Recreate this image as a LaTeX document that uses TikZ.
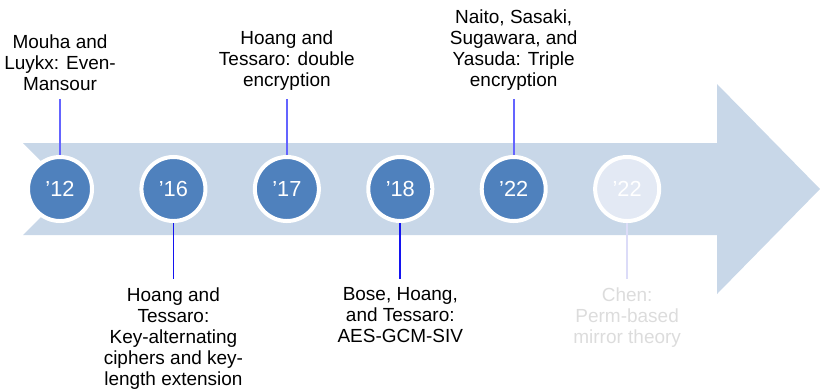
\documentclass[tikz,border=0pt]{standalone}
\usepackage{fontspec}
\setmainfont{Liberation Sans}
\usetikzlibrary{positioning}

\definecolor{bandblue}{HTML}{C8D7E8}
\definecolor{yrblue}{HTML}{4F81BD}
\definecolor{yrfade}{HTML}{E3E9F4}
\definecolor{tickup}{HTML}{6464FF}
\definecolor{tickdown}{HTML}{1414F0}
\definecolor{tickfade}{HTML}{DCDCF8}
\definecolor{txtfade}{HTML}{DCDCDC}

\begin{document}
\begin{tikzpicture}[x=0.025cm,y=-0.025cm,
  yr/.style={circle,fill=yrblue,draw=white,line width=0.1cm,minimum size=1.6cm,inner sep=0pt,outer sep=0.05cm,text=white,font=\fontsize{15.5}{18}\selectfont},
  lbl/.style={align=center,inner xsep=0pt,inner ysep=0.2cm,font=\fontsize{13.5}{15}\selectfont},
  tick/.style={line width=0.04cm}
]
\useasboundingbox (0,0) rectangle (820,390);
% timeline band
\fill[bandblue] (23,143) -- (717,143) -- (717,84) -- (820,189) -- (717,294) -- (717,235) -- (23,235) -- (69,189) -- cycle;

% years
\node[yr] (y12) at (60,189) {’12};
\node[yr, right=1.135cm of y12] (y16) {’16};
\node[yr, right=1.135cm of y16] (y17) {’17};
\node[yr, right=1.135cm of y17] (y18) {’18};
\node[yr, right=1.135cm of y18] (y22) {’22};
\node[yr, fill=yrfade, right=1.135cm of y22] (y22b) {’22};

% results
\node[lbl, above=1.4cm of y12] (mouha) {Mouha and\\Luykx: Even-\\Mansour};
\node[lbl, below=1.4cm of y16] (keyalt) {Hoang and\\Tessaro:\\Key-alternating\\ciphers and key-\\length extension};
\node[lbl, above=1.4cm of y17] (double) {Hoang and\\Tessaro: double\\encryption};
\node[lbl, below=1.4cm of y18] (gcmsiv) {Bose, Hoang,\\and Tessaro:\\AES-GCM-SIV};
\node[lbl, above=1.4cm of y22] (triple) {Naito, Sasaki,\\Sugawara, and\\Yasuda: Triple\\encryption};
\node[lbl, text=txtfade, below=1.4cm of y22b] (mirror) {Chen:\\Perm-based\\mirror theory};

\draw[tick, tickup] (mouha) -- (y12);
\draw[tick, tickdown] (y16) -- (keyalt);
\draw[tick, tickup] (double) -- (y17);
\draw[tick, tickdown] (y18) -- (gcmsiv);
\draw[tick, tickup] (triple) -- (y22);
\draw[tick, tickfade] (y22b) -- (mirror);
\end{tikzpicture}
\end{document}
